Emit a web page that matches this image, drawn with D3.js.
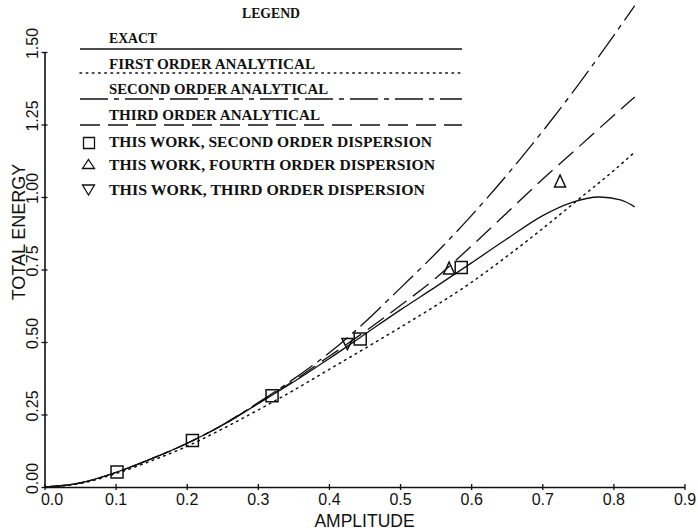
<!DOCTYPE html>
<html>
<head>
<meta charset="utf-8">
<script src="https://cdn.jsdelivr.net/npm/d3@7"></script>
<style>
  html, body { margin: 0; padding: 0; background: #fff; }
  svg { display: block; }
</style>
</head>
<body>
<svg id="chart" width="698" height="532"></svg>
<script>
// Amplitude grid shared by the analytical approximations
const gridAmplitude = [0, 0.05, 0.1, 0.15, 0.2, 0.25, 0.3, 0.35, 0.4, 0.45, 0.5, 0.55, 0.6, 0.65, 0.7, 0.75, 0.8, 0.83];
const firstOrder  = [0, 0.012, 0.046, 0.09, 0.14, 0.2, 0.265, 0.333, 0.405, 0.477, 0.55, 0.625, 0.705, 0.795, 0.89, 0.99, 1.09, 1.155];
const secondOrder = [0, 0.014, 0.05, 0.097, 0.15, 0.214, 0.29, 0.372, 0.462, 0.567, 0.685, 0.805, 0.935, 1.075, 1.225, 1.385, 1.555, 1.66];
const thirdOrder  = [0, 0.014, 0.05, 0.097, 0.15, 0.213, 0.288, 0.366, 0.45, 0.535, 0.625, 0.72, 0.83, 0.945, 1.06, 1.17, 1.28, 1.345];

// Exact solution, sampled more finely near its maximum
const exactAmplitude = [0, 0.05, 0.1, 0.15, 0.2, 0.25, 0.3, 0.35, 0.4, 0.45, 0.5, 0.55, 0.6, 0.65, 0.7, 0.74, 0.78, 0.81, 0.83];
const exactEnergy    = [0, 0.014, 0.05, 0.097, 0.15, 0.213, 0.287, 0.362, 0.442, 0.526, 0.61, 0.69, 0.772, 0.855, 0.935, 0.98, 1.0, 0.99, 0.966];

// Numerical results
const secondDispAmplitude = [0.102, 0.208, 0.32, 0.444, 0.586];
const secondDispEnergy    = [0.052, 0.16, 0.315, 0.51, 0.757];
const fourthDispAmplitude = [0.569, 0.725];
const fourthDispEnergy    = [0.755, 1.055];
const thirdDispAmplitude  = [0.426];
const thirdDispEnergy     = [0.493];

// Axis ticks and titles
const xTicks = [0, 0.1, 0.2, 0.3, 0.4, 0.5, 0.6, 0.7, 0.8, 0.9];
const yTicks = [0, 0.25, 0.5, 0.75, 1.0, 1.25, 1.5];
const xTitle = "AMPLITUDE";
const yTitle = "TOTAL ENERGY";

// Legend content
const legendTitle = "LEGEND";
const lineLegend = [
  { label: "EXACT", dash: null, width: 48 },
  { label: "FIRST ORDER ANALYTICAL", dash: "1.6,4.6", width: 206 },
  { label: "SECOND ORDER ANALYTICAL", dash: "28,6,5,6", width: 219 },
  { label: "THIRD ORDER ANALYTICAL", dash: "20,8", width: 211 }
];
const symbolLegend = [
  { label: "THIS WORK, SECOND ORDER DISPERSION", symbol: "square", width: 323 },
  { label: "THIS WORK, FOURTH ORDER DISPERSION", symbol: "up", width: 326 },
  { label: "THIS WORK, THIRD ORDER DISPERSION", symbol: "down", width: 316 }
];

const svg = d3.select("#chart");
const x = d3.scaleLinear().domain([0, 0.9]).range([44.5, 684.5]);
const y = d3.scaleLinear().domain([0, 1.5]).range([487, 52]);

const ink = "#111";
const sans = "'Liberation Sans', Arial, sans-serif";

// ---- Axes ----
const xAxis = svg.append("g")
  .attr("transform", `translate(0,${y(0)})`)
  .call(d3.axisBottom(x).tickValues(xTicks).tickFormat(d3.format(".1f")).tickSize(3).tickSizeOuter(0).tickPadding(4));
xAxis.select(".domain").attr("stroke", ink).attr("stroke-width", 1.6);
xAxis.selectAll(".tick line").attr("stroke", ink).attr("y1", -3).attr("stroke-width", 1.3);
xAxis.selectAll(".tick text")
  .attr("fill", ink)
  .style("font-family", sans)
  .style("font-size", "16px")
  .attr("dx", (d, i) => i === 0 ? 7 : 0);

const yAxis = svg.append("g")
  .attr("transform", `translate(${x(0)},0)`)
  .call(d3.axisLeft(y).tickValues(yTicks).tickFormat(d3.format(".2f")).tickSize(3).tickSizeOuter(0));
yAxis.select(".domain").attr("stroke", ink).attr("stroke-width", 1.6);
yAxis.selectAll(".tick line").attr("stroke", ink).attr("x1", 3).attr("stroke-width", 1.3);
yAxis.selectAll(".tick text")
  .attr("fill", ink)
  .attr("x", null).attr("dy", null)
  .attr("text-anchor", "middle")
  .attr("transform", "translate(-6.5,-9) rotate(-90)")
  .style("font-family", sans)
  .style("font-size", "16px");

svg.append("text")
  .attr("x", (x(0) + x(0.9)) / 2).attr("y", 527)
  .attr("text-anchor", "middle")
  .attr("fill", ink)
  .style("font-family", sans)
  .style("font-size", "17.5px")
  .text(xTitle);

svg.append("text")
  .attr("transform", "translate(25,232) rotate(-90)")
  .attr("text-anchor", "middle")
  .attr("fill", ink)
  .style("font-family", sans)
  .style("font-size", "18px")
  .text(yTitle);

// ---- Curves ----
const line = d3.line()
  .x(d => x(d[0]))
  .y(d => y(d[1]))
  .curve(d3.curveMonotoneX);

const isDotted = dash => dash != null && dash.startsWith("1.6");

const curves = [
  { amp: gridAmplitude, val: firstOrder, dash: lineLegend[1].dash },
  { amp: gridAmplitude, val: thirdOrder, dash: lineLegend[3].dash },
  { amp: gridAmplitude, val: secondOrder, dash: lineLegend[2].dash },
  { amp: exactAmplitude, val: exactEnergy, dash: null }
];

svg.append("g").selectAll("path")
  .data(curves)
  .join("path")
  .attr("d", c => line(c.amp.map((a, i) => [a, c.val[i]])))
  .attr("fill", "none")
  .attr("stroke", ink)
  .attr("stroke-width", c => isDotted(c.dash) ? 1.5 : 1.3)
  .attr("stroke-linecap", c => isDotted(c.dash) ? "round" : "butt")
  .attr("stroke-dasharray", c => c.dash);

// ---- Markers ----
function squarePath(cx, cy, s) {
  const h = s / 2;
  return `M${cx - h},${cy - h}H${cx + h}V${cy + h}H${cx - h}Z`;
}
function triUpPath(cx, cy, w, h) {
  return `M${cx},${cy - h / 2}L${cx + w / 2},${cy + h / 2}L${cx - w / 2},${cy + h / 2}Z`;
}
function triDownPath(cx, cy, w, h) {
  return `M${cx - w / 2},${cy - h / 2}L${cx + w / 2},${cy - h / 2}L${cx},${cy + h / 2}Z`;
}

const markers = svg.append("g")
  .attr("fill", "none").attr("stroke", ink).attr("stroke-width", 1.5);

markers.selectAll(".sq")
  .data(secondDispAmplitude.map((a, i) => [a, secondDispEnergy[i]]))
  .join("path").attr("class", "sq")
  .attr("d", d => squarePath(x(d[0]), y(d[1]), 12));

markers.selectAll(".up")
  .data(fourthDispAmplitude.map((a, i) => [a, fourthDispEnergy[i]]))
  .join("path").attr("class", "up")
  .attr("d", d => triUpPath(x(d[0]), y(d[1]), 11, 12));

markers.selectAll(".down")
  .data(thirdDispAmplitude.map((a, i) => [a, thirdDispEnergy[i]]))
  .join("path").attr("class", "down")
  .attr("d", d => triDownPath(x(d[0]), y(d[1]), 11, 11));

// ---- Legend ----
const legendFont = "'Liberation Serif', 'Times New Roman', serif";
const legend = svg.append("g");

legend.append("text")
  .attr("x", 242).attr("y", 18)
  .attr("textLength", 58).attr("lengthAdjust", "spacingAndGlyphs")
  .attr("fill", ink)
  .style("font-family", legendFont).style("font-weight", "bold").style("font-size", "15px")
  .text(legendTitle);

const lineRows = legend.selectAll(".lrow")
  .data(lineLegend)
  .join("g").attr("class", "lrow")
  .attr("transform", (d, i) => `translate(0,${[43, 69, 94, 120][i]})`);

lineRows.append("text")
  .attr("x", 109).attr("y", 0)
  .attr("textLength", d => d.width).attr("lengthAdjust", "spacingAndGlyphs")
  .attr("fill", ink)
  .style("font-family", legendFont).style("font-weight", "bold").style("font-size", "15.5px")
  .text(d => d.label);

lineRows.append("line")
  .attr("x1", 80).attr("x2", 462)
  .attr("y1", (d, i) => [6, 4, 5, 5][i]).attr("y2", (d, i) => [6, 4, 5, 5][i])
  .attr("stroke", ink)
  .attr("stroke-width", d => isDotted(d.dash) ? 1.5 : 1.3)
  .attr("stroke-linecap", d => isDotted(d.dash) ? "round" : "butt")
  .attr("stroke-dasharray", d => d.dash);

const symRows = legend.selectAll(".srow")
  .data(symbolLegend)
  .join("g").attr("class", "srow")
  .attr("transform", (d, i) => `translate(0,${[147, 170, 195][i]})`);

symRows.append("text")
  .attr("x", 109).attr("y", 0)
  .attr("textLength", d => d.width).attr("lengthAdjust", "spacingAndGlyphs")
  .attr("fill", ink)
  .style("font-family", legendFont).style("font-weight", "bold").style("font-size", "15.5px")
  .text(d => d.label);

symRows.append("path")
  .attr("fill", "none").attr("stroke", ink).attr("stroke-width", 1.3)
  .attr("d", d => d.symbol === "square" ? squarePath(89, -4, 11)
                : d.symbol === "up" ? triUpPath(88.5, -6, 12, 9)
                : triDownPath(88.5, -5, 12, 10));
</script>
</body>
</html>
